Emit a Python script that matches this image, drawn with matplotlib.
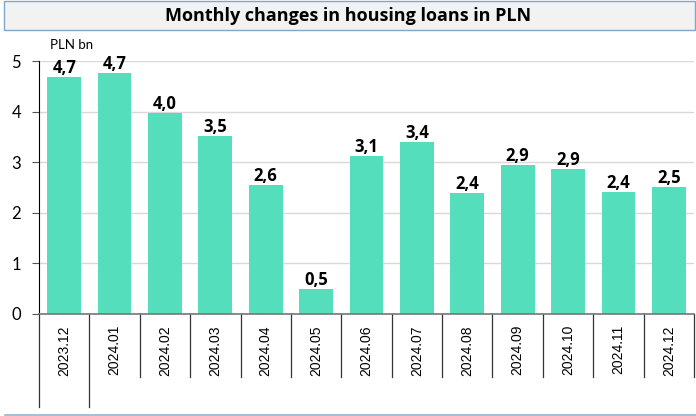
import matplotlib.pyplot as plt
import numpy as np
from matplotlib.patches import Rectangle
from matplotlib.lines import Line2D

months = ["2023.12", "2024.01", "2024.02", "2024.03", "2024.04", "2024.05", "2024.06",
          "2024.07", "2024.08", "2024.09", "2024.10", "2024.11", "2024.12"]
values = [4.68, 4.76, 3.97, 3.52, 2.55, 0.49, 3.12, 3.40, 2.39, 2.94, 2.87, 2.41, 2.51]
labels = ["4,7", "4,7", "4,0", "3,5", "2,6", "0,5", "3,1", "3,4", "2,4", "2,9", "2,9", "2,4", "2,5"]

bar_color = "#55DEBB"

fig = plt.figure(figsize=(6.96, 4.16), dpi=100)

# title box
fig.patches.append(Rectangle((4 / 696, 1 - 30 / 416), 691 / 696, 29 / 416,
                             transform=fig.transFigure, facecolor="#F2F2F2",
                             edgecolor="#7FA7C9", linewidth=1))
fig.text(0.5, 1 - 16 / 416, "Monthly changes in housing loans in PLN",
         ha="center", va="center", fontsize=13, fontweight="bold", family="Open Sans")
fig.text(50 / 696, 1 - 45 / 416, "PLN bn", ha="left", va="center", fontsize=9.5,
         family="Lato")

# bottom line
fig.add_artist(Line2D([5 / 696, 1], [1.5 / 416, 1.5 / 416], transform=fig.transFigure,
                      color="#8DB4D6", linewidth=1.2))

ax = fig.add_axes([39 / 696, 102 / 416, 655 / 696, 253 / 416])
x = np.arange(len(months))
ax.bar(x, values, width=0.67, color=bar_color, zorder=2)
for xi, v, lab in zip(x, values, labels):
    ax.text(xi, v + 0.0, lab, ha="center", va="bottom", fontsize=12,
            fontweight="bold", family="Open Sans")

ax.set_xlim(-0.5, len(months) - 0.5)
ax.set_ylim(0, 5)
ax.set_yticks(range(6))
ax.tick_params(axis="y", labelsize=12, length=5, width=0.8, color="#555555", pad=8)
for t in ax.get_yticklabels():
    t.set_family("Lato")
ax.grid(axis="y", color="#D9D9D9", linewidth=1, zorder=0)
for s in ["top", "right"]:
    ax.spines[s].set_visible(False)
ax.spines["left"].set_color("black")
ax.spines["left"].set_linewidth(0.8)
ax.spines["bottom"].set_color("#777777")
ax.spines["bottom"].set_linewidth(1.2)

ax.set_xticks([])
trans = ax.get_xaxis_transform()
for xi, m in zip(x, months):
    ax.text(xi, -11 / 253, m, rotation=90, ha="center", va="top", fontsize=10,
            family="Liberation Sans", transform=trans)
# category separators
for b in np.arange(-0.5, len(months), 1.0):
    bottom = -93 / 253 if b <= 0.5 else -63 / 253
    ax.add_line(Line2D([b, b], [0, bottom], transform=trans, color="#333333",
                       linewidth=0.9, clip_on=False))

fig.savefig("out.png", dpi=100)
